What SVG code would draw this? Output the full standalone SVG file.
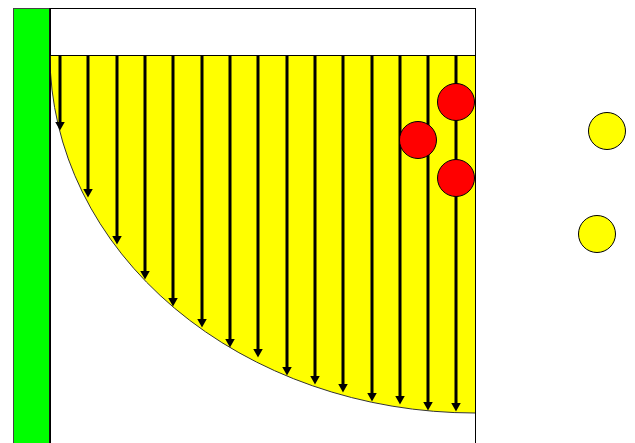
<svg xmlns="http://www.w3.org/2000/svg" width="635" height="443" viewBox="0 0 635 443">
<defs>
<marker id="ah" markerUnits="userSpaceOnUse" markerWidth="10" markerHeight="10" viewBox="0 0 10 10" refX="0.5" refY="5" orient="auto">
<path d="M0,0 L9,5 L0,10 Z" fill="#000"/>
</marker>
<style>
.arrow{stroke:#000;stroke-width:3;fill:none;marker-end:url(#ah)}
.red{fill:#ff0000;stroke:#000;stroke-width:1}
.yel{fill:#ffff00;stroke:#000;stroke-width:1}
</style>
</defs>
<rect width="635" height="443" fill="#fff"/>
<g id="frame">
<rect x="50.5" y="8.5" width="425" height="440" fill="#fff" stroke="#000" stroke-width="1"/>
</g>
<g id="fill">
<path d="M50,55 L475,55 L475,413 A425,358 0 0 1 50,55 Z" fill="#ffff00" stroke="none"/>
<path d="M475,413 A425,358 0 0 1 50,55" fill="none" stroke="#333" stroke-width="1"/>
<line x1="50" y1="55.5" x2="475" y2="55.5" stroke="#000" stroke-width="1"/>
<line x1="475.5" y1="8" x2="475.5" y2="443" stroke="#000" stroke-width="1"/>
</g>
<g id="wall">
<rect x="13.5" y="8.5" width="36" height="440" fill="#00ff00" stroke="#444" stroke-width="1"/>
<line x1="50" y1="8" x2="50" y2="443" stroke="#000" stroke-width="1.5"/>
</g>
<g id="connectors">
<line class="arrow" x1="60" y1="55" x2="60" y2="122"/>
<line class="arrow" x1="88" y1="55" x2="88" y2="189"/>
<line class="arrow" x1="117" y1="55" x2="117" y2="236"/>
<line class="arrow" x1="145" y1="55" x2="145" y2="271"/>
<line class="arrow" x1="173" y1="55" x2="173" y2="298"/>
<line class="arrow" x1="202" y1="55" x2="202" y2="319"/>
<line class="arrow" x1="230" y1="55" x2="230" y2="339"/>
<line class="arrow" x1="258" y1="55" x2="258" y2="349"/>
<line class="arrow" x1="287" y1="55" x2="287" y2="367"/>
<line class="arrow" x1="315" y1="55" x2="315" y2="376"/>
<line class="arrow" x1="343" y1="55" x2="343" y2="384"/>
<line class="arrow" x1="372" y1="55" x2="372" y2="393"/>
<line class="arrow" x1="400" y1="55" x2="400" y2="396"/>
<line class="arrow" x1="428" y1="55" x2="428" y2="402"/>
<line class="arrow" x1="456" y1="55" x2="456" y2="403"/>
</g>
<g id="red1"><circle class="red" cx="456" cy="102" r="18.5"/></g>
<g id="red2"><circle class="red" cx="418" cy="140" r="18.5"/></g>
<g id="red3"><circle class="red" cx="456" cy="178" r="18.5"/></g>
<g id="yellow1"><circle class="yel" cx="607" cy="131" r="18.5"/></g>
<g id="yellow2"><circle class="yel" cx="597" cy="234" r="18.5"/></g>
</svg>
